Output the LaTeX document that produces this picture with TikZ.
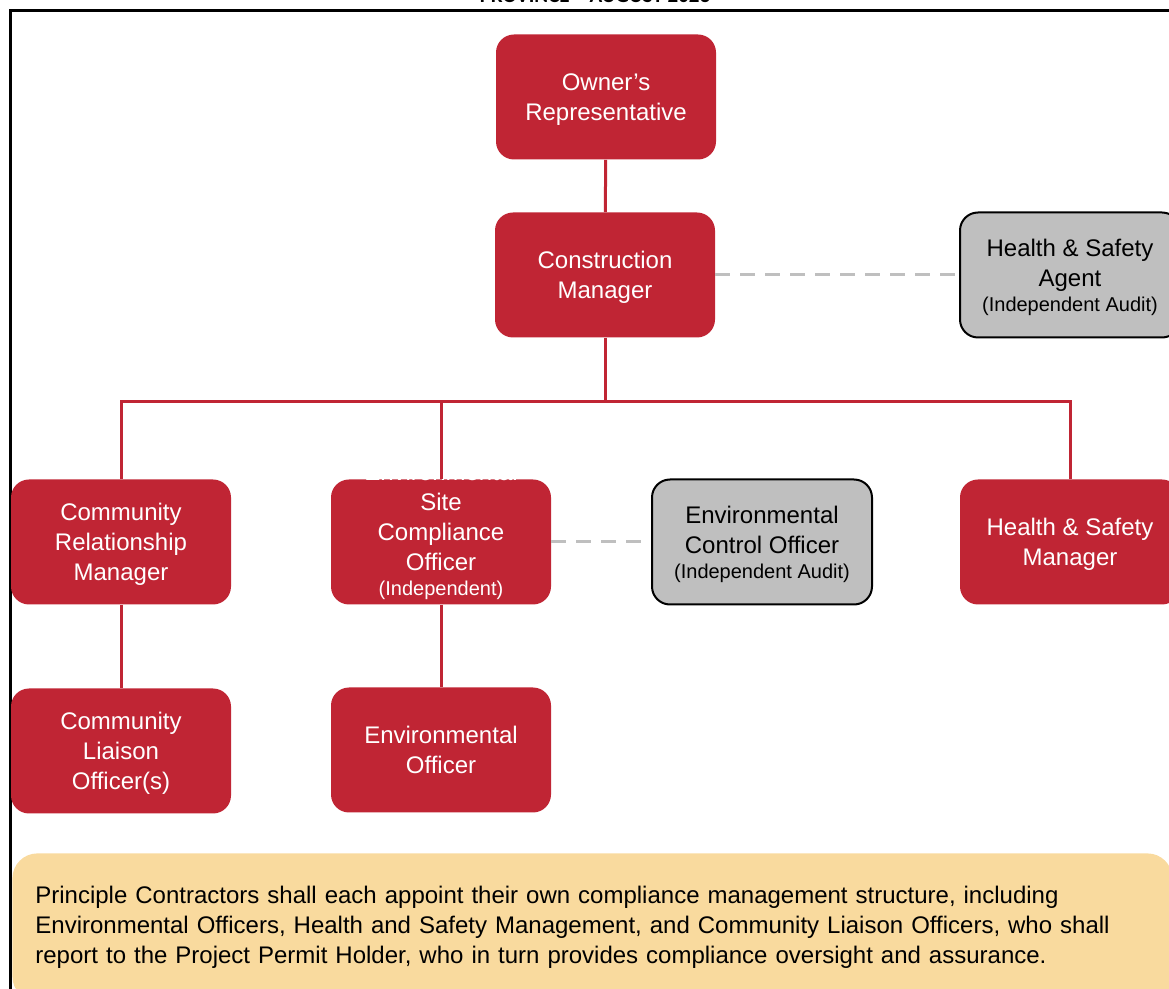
\documentclass[tikz,border=0pt]{standalone}
\usepackage{fontspec}
\setmainfont{Liberation Sans}
\newfontfamily\titlefont{Carlito}
\definecolor{boxred}{RGB}{192,37,52}
\definecolor{boxgray}{RGB}{191,191,191}
\definecolor{noteyellow}{RGB}{249,218,158}
\definecolor{linegray}{RGB}{191,191,191}
\newcommand{\subtxt}[1]{{\fontsize{10}{12}\selectfont #1}}

\begin{document}
\begin{tikzpicture}[x=0.5pt,y=-0.5pt,
	rolebox/.style={rectangle,rounded corners=9pt,minimum width=110pt,minimum height=62.5pt,
		fill=boxred,text=white,align=center,inner sep=0pt,text depth=-2pt,
		font=\fontsize{12}{15}\selectfont},
	auditbox/.style={rolebox,fill=boxgray,draw=black,line width=1pt,text=black},
	note/.style={anchor=north west,rectangle,rounded corners=12.5pt,fill=noteyellow,
		minimum width=580pt,minimum height=74pt,text width=557pt,inner xsep=11.5pt,
		align=left,font=\fontsize{12}{15}\selectfont},
	link/.style={boxred,line width=1.5pt},
	audit/.style={linegray,line width=1.5pt,dash pattern=on 7.5pt off 5pt}]
	\useasboundingbox (0,0) rectangle (1169,989);
	\clip (0,0) rectangle (1169,989);
	% frame and cut-off heading
	\draw[line width=1.5pt] (10,11) rectangle (1190,1010);
	\node[anchor=base,font=\titlefont\bfseries\fontsize{10.5}{12}\selectfont] (title) at (595,3) {PROVINCE – AUGUST 2023};
	% roles
	\node[rolebox] (owner) at (606,97) {Owner’s\\Representative};
	\node[rolebox] (cm) at (605,275) {Construction\\Manager};
	\node[auditbox] (hsa) at (1070,275) {Health \& Safety\\Agent\\[-2.5pt]\subtxt{(Independent Audit)}};
	\node[rolebox] (crm) at (121,542) {Community\\Relationship\\Manager};
	\node[rolebox] (esco) at (441,542) {};
	\node[text=white,align=center,font=\fontsize{12}{15}\selectfont] (escotext) at (441,531)
		{Environmental\\Site\\Compliance\\Officer\\[-2.5pt]\subtxt{(Independent)}};
	\node[auditbox] (eco) at (762,542) {Environmental\\Control Officer\\[-2.5pt]\subtxt{(Independent Audit)}};
	\node[rolebox] (hsm) at (1070,542) {Health \& Safety\\Manager};
	\node[rolebox] (clo) at (121,751) {Community\\Liaison\\Officer(s)};
	\node[rolebox] (eo) at (441,750) {Environmental\\Officer};
	% reporting lines
	\coordinate (bus) at (607,402);
	\draw[link] (owner) -- (cm);
	\draw[link] (cm.south) -- (cm.south |- bus);
	\draw[link] (crm.north) |- (bus) -| (hsm.north);
	\draw[link] (esco.north) -- (esco.north |- bus);
	\draw[link] (crm) -- (clo);
	\draw[link] (esco) -- (eo);
	\draw[audit] (cm) -- (hsa);
	\draw[audit] (esco) -- (eco);
	% note
	\node[note] (remark) at (12,853) {Principle Contractors shall each appoint their own compliance management structure, including\\
		Environmental Officers, Health and Safety Management, and Community Liaison Officers, who shall\\
		report to the Project Permit Holder, who in turn provides compliance oversight and assurance.};
\end{tikzpicture}
\end{document}
